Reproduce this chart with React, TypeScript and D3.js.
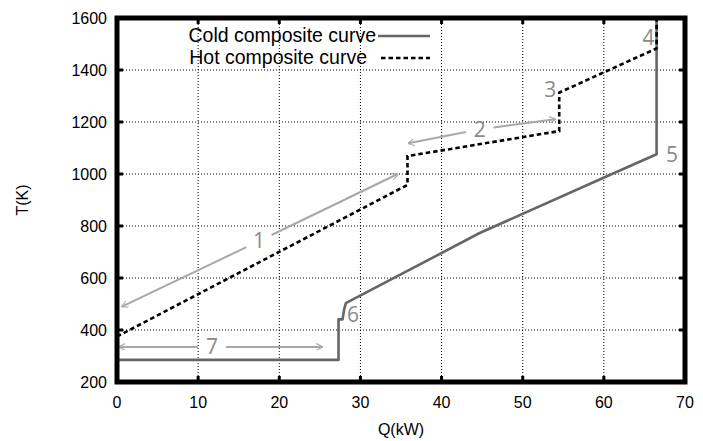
import React from "react";
import * as d3 from "d3";

const W = 703;
const H = 441;

const xTicks = [0, 10, 20, 30, 40, 50, 60, 70];
const yTicks = [200, 400, 600, 800, 1000, 1200, 1400, 1600];

const coldQ = [0, 27.3, 27.3, 27.8, 28.0, 28.2, 44.7, 61, 66.5, 66.5];
const coldT = [285, 285, 441, 441, 480, 503, 773, 1000, 1076, 1600];

const hotQ = [0, 35.8, 35.8, 54.5, 54.5, 66.5, 66.5];
const hotT = [375, 958, 1069, 1165, 1313, 1483, 1600];

const arrowLabels = ["1", "2", "7"];
const arrowStartQ = [0.6, 35.9, 0.25];
const arrowStartT = [490, 1118, 335];
const arrowEndQ = [34.6, 54.0, 25.3];
const arrowEndT = [1000, 1211, 335];
const arrowLabelQ = [17.5, 44.7, 11.7];
const arrowLabelT = [742, 1170, 335];

const pointLabels = ["3", "4", "5", "6"];
const pointLabelQ = [53.4, 65.5, 68.4, 29.1];
const pointLabelT = [1322, 1522, 1073, 458];

export default function App() {
  const x = d3.scaleLinear().domain([0, 70]).range([117, 685]);
  const y = d3.scaleLinear().domain([200, 1600]).range([382, 18]);

  const line = d3
    .line<[number, number]>()
    .x((d) => x(d[0]))
    .y((d) => y(d[1]));

  const cold = coldQ.map((q, i) => [q, coldT[i]] as [number, number]);
  const hot = hotQ.map((q, i) => [q, hotT[i]] as [number, number]);

  const arrowColor = "#a8a8a8";
  const labelColor = "#8a8a8a";

  return (
    <svg
      width={W}
      height={H}
      style={{ position: "absolute", left: 0, top: 0, background: "#fff" }}
      fontFamily="'Liberation Sans', Arial, sans-serif"
    >
      <defs>
        <marker
          id="ah"
          viewBox="0 0 10 10"
          refX="9"
          refY="5"
          markerWidth="7"
          markerHeight="7"
          orient="auto-start-reverse"
          markerUnits="userSpaceOnUse"
        >
          <path d="M0,0 L10,5 L0,10" fill="none" stroke={arrowColor} strokeWidth="1.6" />
        </marker>
      </defs>
      {xTicks.slice(1, -1).map((t) => (
        <line
          key={"gx" + t}
          x1={x(t)}
          x2={x(t)}
          y1={y(200)}
          y2={y(1600)}
          stroke="#000"
          strokeWidth={1}
          strokeDasharray="1,2"
        />
      ))}
      {yTicks.slice(1, -1).map((t) => (
        <line
          key={"gy" + t}
          x1={x(0)}
          x2={x(70)}
          y1={y(t)}
          y2={y(t)}
          stroke="#000"
          strokeWidth={1}
          strokeDasharray="1,2"
        />
      ))}
      {xTicks.slice(1, -1).map((t) => (
        <g key={"tx" + t}>
          <line x1={x(t)} x2={x(t)} y1={y(200)} y2={y(200) - 6} stroke="#000" strokeWidth={3} />
          <line x1={x(t)} x2={x(t)} y1={y(1600)} y2={y(1600) + 6} stroke="#000" strokeWidth={3} />
        </g>
      ))}
      {yTicks.slice(1, -1).map((t) => (
        <g key={"ty" + t}>
          <line x1={x(0)} x2={x(0) + 6} y1={y(t)} y2={y(t)} stroke="#000" strokeWidth={3} />
          <line x1={x(70)} x2={x(70) - 6} y1={y(t)} y2={y(t)} stroke="#000" strokeWidth={3} />
        </g>
      ))}
      {xTicks.map((t) => (
        <text key={"lx" + t} x={x(t)} y={408} textAnchor="middle" fontSize={16} fill="#000">
          {t}
        </text>
      ))}
      {yTicks.map((t) => (
        <text key={"ly" + t} x={107} y={y(t) + 6} textAnchor="end" fontSize={16} fill="#000">
          {t}
        </text>
      ))}
      <text x={x(35)} y={435} textAnchor="middle" fontSize={16} fill="#000">
        Q(kW)
      </text>
      <text
        transform={`translate(28,${y(900)}) rotate(-90)`}
        textAnchor="middle"
        fontSize={16}
        fill="#000"
      >
        T(K)
      </text>

      {arrowLabels.map((lab, i) => {
        const x1 = x(arrowStartQ[i]);
        const y1 = y(arrowStartT[i]);
        const x2 = x(arrowEndQ[i]);
        const y2 = y(arrowEndT[i]);
        const lx = x(arrowLabelQ[i]);
        const ly = y(arrowLabelT[i]);
        const len = Math.hypot(x2 - x1, y2 - y1);
        const ux = (x2 - x1) / len;
        const uy = (y2 - y1) / len;
        const gap = 14;
        return (
          <g key={"ar" + lab}>
            <line
              x1={lx - ux * gap}
              y1={ly - uy * gap}
              x2={x1}
              y2={y1}
              stroke={arrowColor}
              strokeWidth={2}
              markerEnd="url(#ah)"
            />
            <line
              x1={lx + ux * gap}
              y1={ly + uy * gap}
              x2={x2}
              y2={y2}
              stroke={arrowColor}
              strokeWidth={2}
              markerEnd="url(#ah)"
            />
            <text
              x={lx}
              y={ly + 7}
              textAnchor="middle"
              fontSize={21}
              fill={labelColor}
              fontFamily="'Open Sans', sans-serif"
            >
              {lab}
            </text>
          </g>
        );
      })}
      {pointLabels.map((lab, i) => (
        <text
          key={"pl" + lab}
          x={x(pointLabelQ[i])}
          y={y(pointLabelT[i]) + 7}
          textAnchor="middle"
          fontSize={21}
          fill={labelColor}
          fontFamily="'Open Sans', sans-serif"
        >
          {lab}
        </text>
      ))}

      <path d={line(cold) || ""} fill="none" stroke="#666" strokeWidth={2.6} strokeLinejoin="round" />
      <path d={line(hot) || ""} fill="none" stroke="#000" strokeWidth={2.6} strokeDasharray="4.5,3" />

      <text x={376} y={42} textAnchor="end" fontSize={19.5} fill="#000">
        Cold composite curve
      </text>
      <line x1={378} x2={430} y1={36} y2={36} stroke="#666" strokeWidth={2.6} />
      <text x={367} y={64} textAnchor="end" fontSize={19.5} fill="#000">
        Hot composite curve
      </text>
      <line x1={381} x2={430} y1={58} y2={58} stroke="#000" strokeWidth={2.6} strokeDasharray="4.5,3" />

      <rect
        x={x(0)}
        y={y(1600)}
        width={x(70) - x(0)}
        height={y(200) - y(1600)}
        fill="none"
        stroke="#000"
        strokeWidth={5}
      />
    </svg>
  );
}
